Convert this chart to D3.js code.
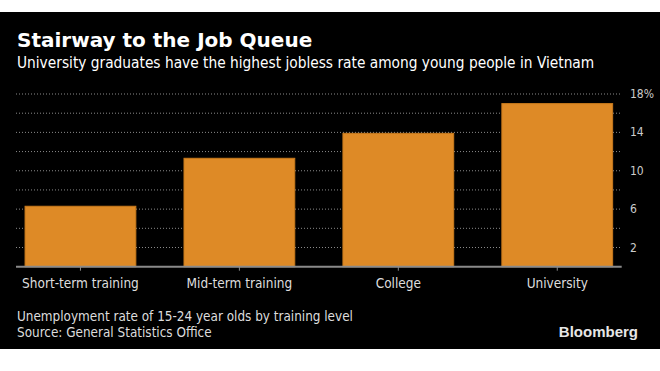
<!DOCTYPE html>
<html>
<head>
<meta charset="utf-8">
<script src="https://cdn.jsdelivr.net/npm/d3@7"></script>
<style>
  body { margin: 0; background: #fff; }
  svg { display: block; }
  text { font-family: "DejaVu Sans Condensed", "DejaVu Sans", sans-serif; }
</style>
</head>
<body>
<svg id="chart" width="660" height="371"></svg>
<script>
(function () {
  const categories = ["Short-term training", "Mid-term training", "College", "University"];
  const rates = [6.3, 11.3, 13.9, 17.0];
  const gridValues = [2, 4, 6, 8, 10, 12, 14, 16, 18];
  const tickLabels = [2, 6, 10, 14, 18];

  const font = '"DejaVu Sans Condensed", "DejaVu Sans", sans-serif';
  const svg = d3.select("#chart");

  // black panel
  svg.append("rect")
    .attr("x", 0).attr("y", 12)
    .attr("width", 660).attr("height", 337)
    .style("fill", "#000");

  svg.append("text")
    .attr("x", 17).attr("y", 47)
    .style("font-family", '"DejaVu Sans", sans-serif')
    .style("font-size", "20px")
    .style("font-weight", "bold")
    .style("fill", "#fff")
    .text("Stairway to the Job Queue");

  svg.append("text")
    .attr("x", 17).attr("y", 68)
    .style("font-size", "15.3px")
    .style("fill", "#fff")
    .text("University graduates have the highest jobless rate among young people in Vietnam");

  const x = d3.scaleBand()
    .domain(categories)
    .range([16, 621.7])
    .paddingInner(0.303)
    .paddingOuter(0.057);

  const y = d3.scaleLinear().domain([0, 18]).range([266.7, 94]);

  // dotted gridlines
  svg.append("g")
    .selectAll("line")
    .data(gridValues)
    .enter()
    .append("line")
    .attr("x1", 16)
    .attr("x2", 621.7)
    .attr("y1", (d) => y(d))
    .attr("y2", (d) => y(d))
    .style("stroke", "#8a8a8a")
    .style("stroke-width", 1)
    .style("stroke-dasharray", "1,2");

  // right axis labels
  svg.append("g")
    .selectAll("text")
    .data(tickLabels)
    .enter()
    .append("text")
    .attr("x", 630)
    .attr("y", (d) => y(d) + 4)
    .style("font-size", "12px")
    .style("fill", "#ccc")
    .text((d) => (d === 18 ? d + "%" : d));

  // bars
  svg.append("g")
    .selectAll("rect")
    .data(rates)
    .enter()
    .append("rect")
    .attr("x", (d, i) => x(categories[i]))
    .attr("y", (d) => y(d))
    .attr("width", x.bandwidth())
    .attr("height", (d) => y(0) - y(d))
    .style("fill", "#de8a26")
    .style("stroke", "#c97a1c")
    .style("stroke-width", 1);

  // baseline and x axis
  const xAxis = d3.axisBottom(x).tickSize(4).tickPadding(8);
  const gx = svg.append("g")
    .attr("transform", "translate(0," + y(0) + ")")
    .call(xAxis);
  gx.select(".domain").remove();
  gx.insert("line", ":first-child")
    .attr("x1", 16).attr("x2", 621.7)
    .style("stroke", "#8a8a8a")
    .style("stroke-width", 2);
  gx.selectAll(".tick line").style("stroke", "#8a8a8a");
  gx.selectAll(".tick text")
    .style("font-family", font)
    .style("font-size", "13.5px")
    .style("fill", "#ddd");

  svg.append("text")
    .attr("x", 17).attr("y", 321)
    .style("font-size", "13.4px")
    .style("fill", "#ddd")
    .text("Unemployment rate of 15-24 year olds by training level");

  svg.append("text")
    .attr("x", 17).attr("y", 336.5)
    .style("font-size", "13.4px")
    .style("fill", "#ddd")
    .text("Source: General Statistics Office");

  svg.append("text")
    .attr("x", 638).attr("y", 337)
    .attr("text-anchor", "end")
    .style("font-family", '"Liberation Sans", Arial, sans-serif')
    .style("font-size", "15px")
    .style("font-weight", "bold")
    .style("fill", "#e6e6e6")
    .text("Bloomberg");
})();
</script>
</body>
</html>
